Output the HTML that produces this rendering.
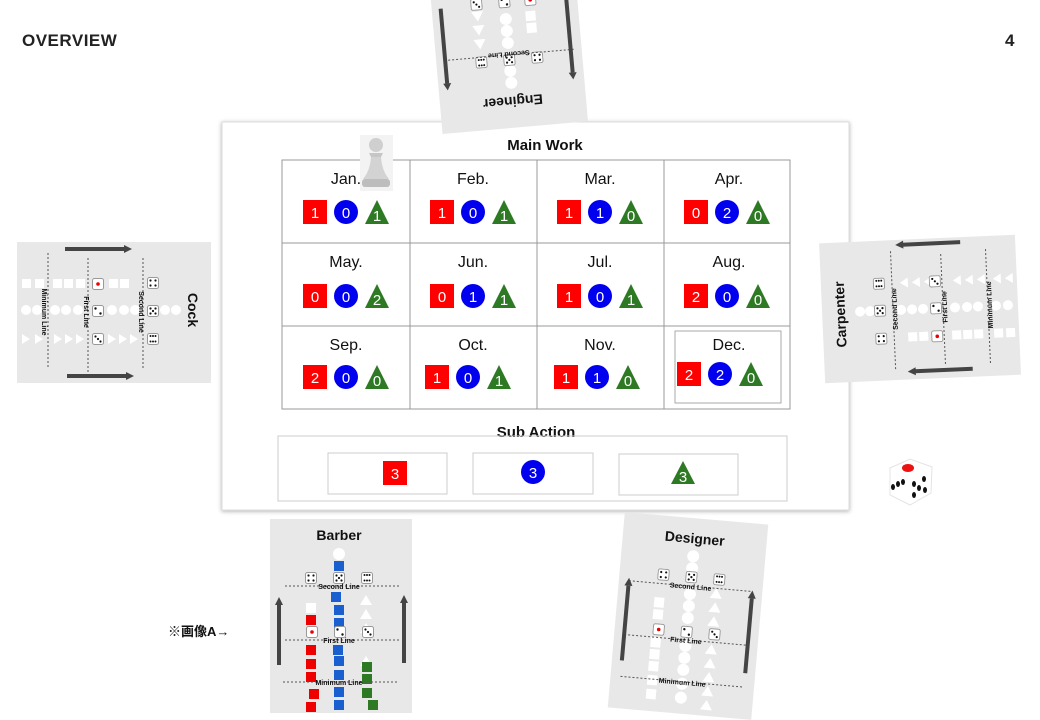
<!DOCTYPE html>
<html><head><meta charset="utf-8"><style>
html,body{margin:0;padding:0;background:#fff;}
svg{display:block;font-family:"Liberation Sans","Noto Sans CJK JP",sans-serif;}
.n{fill:#fff;font-size:15px;text-anchor:middle;}
.m{font-size:16px;text-anchor:middle;fill:#111;}
.ln{font-size:7px;font-weight:bold;fill:#111;text-anchor:middle;}
.dl{stroke:#555;stroke-width:1;stroke-dasharray:2,2;}
.ar{stroke:#444;stroke-width:4;}
</style></head><body>
<svg width="1040" height="720" viewBox="0 0 1040 720" xmlns="http://www.w3.org/2000/svg">
<defs>
<symbol id="d1" viewBox="0 0 12 12"><rect x="0.5" y="0.5" width="11" height="11" rx="2" fill="#fff" stroke="#999"/><circle cx="6" cy="6" r="1.8" fill="#e00"/></symbol>
<symbol id="d2" viewBox="0 0 12 12"><rect x="0.5" y="0.5" width="11" height="11" rx="2" fill="#fff" stroke="#999"/><circle cx="3.5" cy="3.5" r="1.2" fill="#111"/><circle cx="8.5" cy="8.5" r="1.2" fill="#111"/></symbol>
<symbol id="d3" viewBox="0 0 12 12"><rect x="0.5" y="0.5" width="11" height="11" rx="2" fill="#fff" stroke="#999"/><circle cx="3.5" cy="3.5" r="1.1" fill="#111"/><circle cx="6" cy="6" r="1.1" fill="#111"/><circle cx="8.5" cy="8.5" r="1.1" fill="#111"/></symbol>
<symbol id="d4" viewBox="0 0 12 12"><rect x="0.5" y="0.5" width="11" height="11" rx="2" fill="#fff" stroke="#999"/><circle cx="3.5" cy="3.5" r="1.1" fill="#111"/><circle cx="8.5" cy="3.5" r="1.1" fill="#111"/><circle cx="3.5" cy="8.5" r="1.1" fill="#111"/><circle cx="8.5" cy="8.5" r="1.1" fill="#111"/></symbol>
<symbol id="d5" viewBox="0 0 12 12"><rect x="0.5" y="0.5" width="11" height="11" rx="2" fill="#fff" stroke="#999"/><circle cx="3.5" cy="3.5" r="1.1" fill="#111"/><circle cx="8.5" cy="3.5" r="1.1" fill="#111"/><circle cx="6" cy="6" r="1.1" fill="#111"/><circle cx="3.5" cy="8.5" r="1.1" fill="#111"/><circle cx="8.5" cy="8.5" r="1.1" fill="#111"/></symbol>
<symbol id="d6" viewBox="0 0 12 12"><rect x="0.5" y="0.5" width="11" height="11" rx="2" fill="#fff" stroke="#999"/><circle cx="3.5" cy="3" r="1" fill="#111"/><circle cx="6" cy="3" r="1" fill="#111"/><circle cx="8.5" cy="3" r="1" fill="#111"/><circle cx="3.5" cy="8.5" r="1" fill="#111"/><circle cx="6" cy="8.5" r="1" fill="#111"/><circle cx="8.5" cy="8.5" r="1" fill="#111"/></symbol>
<filter id="sh" x="-10%" y="-10%" width="120%" height="120%"><feDropShadow dx="0" dy="1" stdDeviation="2" flood-color="#000" flood-opacity="0.3"/></filter>
</defs>

<text x="22" y="46" font-size="17" font-weight="bold" fill="#222" letter-spacing="0.5">OVERVIEW</text>
<text x="1005" y="46" font-size="17" font-weight="bold" fill="#222">4</text>

<!-- Main panel -->
<rect x="222" y="122" width="627" height="388" fill="#fff" stroke="#ddd" filter="url(#sh)"/>
<text x="545" y="150" font-size="15" font-weight="bold" text-anchor="middle" fill="#111">Main Work</text>
<g stroke="#999" stroke-width="1" fill="none">
<rect x="282" y="160" width="508" height="249"/>
<line x1="410" y1="160" x2="410" y2="409"/><line x1="537" y1="160" x2="537" y2="409"/><line x1="664" y1="160" x2="664" y2="409"/>
<line x1="282" y1="243" x2="790" y2="243"/><line x1="282" y1="326" x2="790" y2="326"/>
<rect x="675" y="331" width="106" height="72" stroke="#aaa"/>
</g>
<text class="m" x="346" y="184">Jan.</text><text class="m" x="473" y="184">Feb.</text><text class="m" x="600" y="184">Mar.</text><text class="m" x="729" y="184">Apr.</text>
<text class="m" x="346" y="267">May.</text><text class="m" x="473" y="267">Jun.</text><text class="m" x="600" y="267">Jul.</text><text class="m" x="729" y="267">Aug.</text>
<text class="m" x="346" y="350">Sep.</text><text class="m" x="473" y="350">Oct.</text><text class="m" x="600" y="350">Nov.</text><text class="m" x="729" y="350">Dec.</text>

<g transform="translate(346,212)"><rect x="-43" y="-12" width="24" height="24" fill="#f00"/><text class="n" x="-31" y="6">1</text><circle r="12" fill="#00e"/><text class="n" x="0" y="6">0</text><polygon points="19,12 31,-12 43,12" fill="#2e7a24"/><text class="n" x="31" y="9">1</text></g>
<g transform="translate(473,212)"><rect x="-43" y="-12" width="24" height="24" fill="#f00"/><text class="n" x="-31" y="6">1</text><circle r="12" fill="#00e"/><text class="n" x="0" y="6">0</text><polygon points="19,12 31,-12 43,12" fill="#2e7a24"/><text class="n" x="31" y="9">1</text></g>
<g transform="translate(600,212)"><rect x="-43" y="-12" width="24" height="24" fill="#f00"/><text class="n" x="-31" y="6">1</text><circle r="12" fill="#00e"/><text class="n" x="0" y="6">1</text><polygon points="19,12 31,-12 43,12" fill="#2e7a24"/><text class="n" x="31" y="9">0</text></g>
<g transform="translate(727,212)"><rect x="-43" y="-12" width="24" height="24" fill="#f00"/><text class="n" x="-31" y="6">0</text><circle r="12" fill="#00e"/><text class="n" x="0" y="6">2</text><polygon points="19,12 31,-12 43,12" fill="#2e7a24"/><text class="n" x="31" y="9">0</text></g>
<g transform="translate(346,296)"><rect x="-43" y="-12" width="24" height="24" fill="#f00"/><text class="n" x="-31" y="6">0</text><circle r="12" fill="#00e"/><text class="n" x="0" y="6">0</text><polygon points="19,12 31,-12 43,12" fill="#2e7a24"/><text class="n" x="31" y="9">2</text></g>
<g transform="translate(473,296)"><rect x="-43" y="-12" width="24" height="24" fill="#f00"/><text class="n" x="-31" y="6">0</text><circle r="12" fill="#00e"/><text class="n" x="0" y="6">1</text><polygon points="19,12 31,-12 43,12" fill="#2e7a24"/><text class="n" x="31" y="9">1</text></g>
<g transform="translate(600,296)"><rect x="-43" y="-12" width="24" height="24" fill="#f00"/><text class="n" x="-31" y="6">1</text><circle r="12" fill="#00e"/><text class="n" x="0" y="6">0</text><polygon points="19,12 31,-12 43,12" fill="#2e7a24"/><text class="n" x="31" y="9">1</text></g>
<g transform="translate(727,296)"><rect x="-43" y="-12" width="24" height="24" fill="#f00"/><text class="n" x="-31" y="6">2</text><circle r="12" fill="#00e"/><text class="n" x="0" y="6">0</text><polygon points="19,12 31,-12 43,12" fill="#2e7a24"/><text class="n" x="31" y="9">0</text></g>
<g transform="translate(346,377)"><rect x="-43" y="-12" width="24" height="24" fill="#f00"/><text class="n" x="-31" y="6">2</text><circle r="12" fill="#00e"/><text class="n" x="0" y="6">0</text><polygon points="19,12 31,-12 43,12" fill="#2e7a24"/><text class="n" x="31" y="9">0</text></g>
<g transform="translate(468,377)"><rect x="-43" y="-12" width="24" height="24" fill="#f00"/><text class="n" x="-31" y="6">1</text><circle r="12" fill="#00e"/><text class="n" x="0" y="6">0</text><polygon points="19,12 31,-12 43,12" fill="#2e7a24"/><text class="n" x="31" y="9">1</text></g>
<g transform="translate(597,377)"><rect x="-43" y="-12" width="24" height="24" fill="#f00"/><text class="n" x="-31" y="6">1</text><circle r="12" fill="#00e"/><text class="n" x="0" y="6">1</text><polygon points="19,12 31,-12 43,12" fill="#2e7a24"/><text class="n" x="31" y="9">0</text></g>
<g transform="translate(720,374)"><rect x="-43" y="-12" width="24" height="24" fill="#f00"/><text class="n" x="-31" y="6">2</text><circle r="12" fill="#00e"/><text class="n" x="0" y="6">2</text><polygon points="19,12 31,-12 43,12" fill="#2e7a24"/><text class="n" x="31" y="9">0</text></g>

<text x="536" y="437" font-size="15" font-weight="bold" text-anchor="middle" fill="#111">Sub Action</text>
<g fill="none" stroke="#ccc"><rect x="278" y="436" width="509" height="65"/><rect x="328" y="453" width="119" height="41"/><rect x="473" y="453" width="120" height="41"/><rect x="619" y="454" width="119" height="41"/></g>
<rect x="383" y="461" width="24" height="24" fill="#f00"/><text class="n" x="395" y="479">3</text>
<circle cx="533" cy="472" r="12" fill="#00e"/><text class="n" x="533" y="478">3</text>
<polygon points="671,484 683,461 695,484" fill="#2e7a24"/><text class="n" x="683" y="482">3</text>

<!-- pawn -->
<g>
<rect x="360" y="135" width="33" height="56" fill="#f3f3f3"/>
<circle cx="376" cy="145" r="7" fill="#cfcfcf"/>
<path d="M369 153 h14 l-2 4 h-10z" fill="#c6c6c6"/>
<path d="M371 157 h10 q1 14 8 22 h-26 q7 -8 8 -22z" fill="#d3d3d3"/>
<rect x="362" y="179" width="28" height="8" rx="3" fill="#bdbdbd"/>
</g>

<!-- Engineer card (upside-down) -->
<g transform="translate(507,33) rotate(175)">
<rect x="-73" y="-95" width="146" height="190" fill="#e8e8e8"/>
<text x="0" y="-64" font-size="14" font-weight="bold" text-anchor="middle" fill="#111">Engineer</text>
<circle cx="0" cy="-50" r="6" fill="#fff"/><circle cx="0" cy="-38" r="6" fill="#fff"/>
<use href="#d4" x="-34" y="-33" width="12" height="12"/><use href="#d5" x="-6" y="-33" width="12" height="12"/><use href="#d6" x="22" y="-33" width="12" height="12"/>
<line class="dl" x1="-65" y1="-22" x2="65" y2="-22"/><text class="ln" x="0" y="-19">Second Line</text>
<circle cx="0" cy="-10" r="6" fill="#fff"/><circle cx="0" cy="2" r="6" fill="#fff"/><circle cx="0" cy="14" r="6" fill="#fff"/>
<rect x="-30" y="-2" width="10" height="10" fill="#fff"/><rect x="-30" y="10" width="10" height="10" fill="#fff"/>
<polygon points="22,-4 34,-4 28,-14" fill="#fff"/><polygon points="22,10 34,10 28,0" fill="#fff"/><polygon points="22,24 34,24 28,14" fill="#fff"/>
<use href="#d1" x="-32" y="25" width="12" height="12"/><use href="#d2" x="-6" y="25" width="12" height="12"/><use href="#d3" x="22" y="25" width="12" height="12"/>
<line class="dl" x1="-65" y1="40" x2="65" y2="40"/><text class="ln" x="0" y="43">First Line</text>
<line class="ar" x1="-62" y1="30" x2="-62" y2="-45"/><polygon points="-66,-45 -58,-45 -62,-52" fill="#444"/>
<line class="ar" x1="64" y1="30" x2="64" y2="-45"/><polygon points="60,-45 68,-45 64,-52" fill="#444"/>
</g>

<!-- Cock card -->
<g>
<rect x="17" y="242" width="194" height="141" fill="#e8e8e8"/>
<line class="ar" x1="65" y1="249" x2="125" y2="249"/><polygon points="124,245 124,253 132,249" fill="#444"/>
<line class="ar" x1="67" y1="376" x2="127" y2="376"/><polygon points="126,372 126,380 134,376" fill="#444"/>
<line class="dl" x1="48" y1="253" x2="48" y2="368"/><line class="dl" x1="88" y1="258" x2="88" y2="372"/><line class="dl" x1="143" y1="258" x2="143" y2="370"/>
<g fill="#fff"><rect x="22" y="279" width="9" height="9"/><rect x="35" y="279" width="9" height="9"/><rect x="53" y="279" width="9" height="9"/><rect x="64" y="279" width="9" height="9"/><rect x="76" y="279" width="9" height="9"/><rect x="109" y="279" width="9" height="9"/><rect x="120" y="279" width="9" height="9"/>
<circle cx="26" cy="310" r="5"/><circle cx="37" cy="310" r="5"/><circle cx="55" cy="310" r="5"/><circle cx="66" cy="310" r="5"/><circle cx="78" cy="310" r="5"/><circle cx="112" cy="310" r="5"/><circle cx="124" cy="310" r="5"/><circle cx="135" cy="310" r="5"/><circle cx="165" cy="310" r="5"/><circle cx="176" cy="310" r="5"/>
<polygon points="22,334 22,344 30,339"/><polygon points="35,334 35,344 43,339"/><polygon points="54,334 54,344 62,339"/><polygon points="65,334 65,344 73,339"/><polygon points="76,334 76,344 84,339"/><polygon points="108,334 108,344 116,339"/><polygon points="119,334 119,344 127,339"/><polygon points="130,334 130,344 138,339"/></g>
<use href="#d1" x="92" y="278" width="12" height="12"/><use href="#d2" x="92" y="305" width="12" height="12"/><use href="#d3" x="92" y="333" width="12" height="12"/>
<use href="#d4" x="147" y="277" width="12" height="12"/><use href="#d5" x="147" y="305" width="12" height="12"/><use href="#d6" x="147" y="333" width="12" height="12"/>
<text class="ln" transform="translate(42,312) rotate(90)">Minimum Line</text>
<text class="ln" transform="translate(84,312) rotate(90)">First Line</text>
<text class="ln" transform="translate(139,312) rotate(90)">Second Line</text>
<text transform="translate(188,310) rotate(90)" font-size="14" font-weight="bold" text-anchor="middle" fill="#111">Cock</text>
</g>

<!-- Carpenter card -->
<g transform="rotate(-2.5 920 308)">
<rect x="822" y="239" width="196" height="140" fill="#e8e8e8"/>
<line class="ar" x1="905" y1="244" x2="963" y2="244"/><polygon points="906,240 906,248 898,244" fill="#444"/>
<line class="ar" x1="912" y1="371" x2="970" y2="371"/><polygon points="913,367 913,375 905,371" fill="#444"/>
<line class="dl" x1="893" y1="250" x2="893" y2="368"/><line class="dl" x1="943" y1="255" x2="943" y2="366"/><line class="dl" x1="988" y1="252" x2="988" y2="368"/>
<g fill="#fff">
<polygon points="909,277 909,287 901,282"/><polygon points="921,277 921,287 913,282"/><polygon points="933,277 933,287 925,282"/><polygon points="962,277 962,287 954,282"/><polygon points="974,277 974,287 966,282"/><polygon points="986,277 986,287 978,282"/><polygon points="1002,277 1002,287 994,282"/><polygon points="1014,277 1014,287 1006,282"/>
<circle cx="860" cy="309" r="5"/><circle cx="870" cy="309" r="5"/><circle cx="901" cy="309" r="5"/><circle cx="912" cy="309" r="5"/><circle cx="923" cy="309" r="5"/><circle cx="955" cy="309" r="5"/><circle cx="967" cy="309" r="5"/><circle cx="978" cy="309" r="5"/><circle cx="996" cy="309" r="5"/><circle cx="1008" cy="309" r="5"/>
<rect x="907" y="332" width="9" height="9"/><rect x="918" y="332" width="9" height="9"/><rect x="951" y="332" width="9" height="9"/><rect x="962" y="332" width="9" height="9"/><rect x="973" y="332" width="9" height="9"/><rect x="993" y="332" width="9" height="9"/><rect x="1005" y="332" width="9" height="9"/></g>
<use href="#d6" x="874" y="276" width="12" height="12"/><use href="#d5" x="874" y="303" width="12" height="12"/><use href="#d4" x="874" y="331" width="12" height="12"/>
<use href="#d3" x="930" y="276" width="12" height="12"/><use href="#d2" x="930" y="303" width="12" height="12"/><use href="#d1" x="930" y="331" width="12" height="12"/>
<text class="ln" transform="translate(897,308) rotate(-90)">Second Line</text>
<text class="ln" transform="translate(947,308) rotate(-90)">First Line</text>
<text class="ln" transform="translate(992,308) rotate(-90)">Minimum Line</text>
<text transform="translate(845,311) rotate(-90)" font-size="14" font-weight="bold" text-anchor="middle" fill="#111">Carpenter</text>
</g>

<!-- dice -->
<g>
<path d="M890 468 l20 -9 l22 8 l-1 26 l-21 12 l-20 -10z" fill="#fff" stroke="#e4e4e4"/>
<ellipse cx="908" cy="468" rx="6" ry="4" fill="#e11"/>
<g fill="#111"><ellipse cx="893" cy="487" rx="2" ry="3"/><ellipse cx="898" cy="484" rx="2" ry="3"/><ellipse cx="903" cy="482" rx="2" ry="3"/>
<ellipse cx="914" cy="484" rx="2" ry="3"/><ellipse cx="924" cy="479" rx="2" ry="3"/><ellipse cx="919" cy="488" rx="2" ry="3"/><ellipse cx="914" cy="495" rx="2" ry="3"/><ellipse cx="925" cy="490" rx="2" ry="3"/></g>
</g>

<!-- Barber card -->
<g>
<rect x="270" y="519" width="142" height="194" fill="#e8e8e8"/>
<text x="339" y="540" font-size="14" font-weight="bold" text-anchor="middle" fill="#111">Barber</text>
<circle cx="339" cy="554" r="6" fill="#fff"/><rect x="334" y="561" width="10" height="10" fill="#1a5fd0"/>
<use href="#d4" x="305" y="572" width="12" height="12"/><use href="#d5" x="333" y="572" width="12" height="12"/><use href="#d6" x="361" y="572" width="12" height="12"/>
<line class="dl" x1="285" y1="586" x2="399" y2="586"/><text class="ln" x="339" y="589">Second Line</text>
<g fill="#fff"><polygon points="360,605 372,605 366,595"/><polygon points="360,619 372,619 366,609"/><polygon points="360,633 372,633 366,623"/><polygon points="360,666 372,666 366,656"/><rect x="306" y="603" width="10" height="10"/></g>
<g fill="#1a5fd0"><rect x="331" y="592" width="10" height="10"/><rect x="334" y="605" width="10" height="10"/><rect x="334" y="618" width="10" height="10"/><rect x="333" y="645" width="10" height="10"/><rect x="334" y="656" width="10" height="10"/><rect x="334" y="670" width="10" height="10"/><rect x="334" y="687" width="10" height="10"/><rect x="334" y="700" width="10" height="10"/></g>
<g fill="#e00"><rect x="306" y="615" width="10" height="10"/><rect x="306" y="645" width="10" height="10"/><rect x="306" y="659" width="10" height="10"/><rect x="306" y="672" width="10" height="10"/><rect x="309" y="689" width="10" height="10"/><rect x="306" y="702" width="10" height="10"/></g>
<g fill="#2e7a24"><rect x="362" y="662" width="10" height="10"/><rect x="362" y="674" width="10" height="10"/><rect x="362" y="688" width="10" height="10"/><rect x="368" y="700" width="10" height="10"/></g>
<use href="#d1" x="306" y="626" width="12" height="12"/><use href="#d2" x="334" y="626" width="12" height="12"/><use href="#d3" x="362" y="626" width="12" height="12"/>
<line class="dl" x1="285" y1="640" x2="399" y2="640"/><text class="ln" x="339" y="643">First Line</text>
<line class="dl" x1="283" y1="682" x2="399" y2="682"/><text class="ln" x="339" y="685">Minimum Line</text>
<line class="ar" x1="279" y1="665" x2="279" y2="604"/><polygon points="275,605 283,605 279,597" fill="#444"/>
<line class="ar" x1="404" y1="663" x2="404" y2="602"/><polygon points="400,603 408,603 404,595" fill="#444"/>
</g>

<text x="168" y="636" font-size="13" font-weight="bold" fill="#111">※画像A→</text>

<!-- Designer card -->
<g transform="translate(688,616) rotate(5)">
<rect x="-72" y="-98" width="144" height="196" fill="#e8e8e8"/>
<text x="0" y="-73" font-size="14" font-weight="bold" text-anchor="middle" fill="#111">Designer</text>
<g fill="#fff"><circle cx="0" cy="-60" r="6"/><circle cx="0" cy="-48" r="6"/><circle cx="0" cy="-22" r="6"/><circle cx="0" cy="-10" r="6"/><circle cx="0" cy="2" r="6"/><circle cx="0" cy="30" r="6"/><circle cx="0" cy="42" r="6"/><circle cx="0" cy="54" r="6"/><circle cx="0" cy="68" r="6"/><circle cx="0" cy="82" r="6"/>
<rect x="-35" y="-16" width="10" height="10"/><rect x="-35" y="-4" width="10" height="10"/><rect x="-35" y="24" width="10" height="10"/><rect x="-35" y="36" width="10" height="10"/><rect x="-35" y="48" width="10" height="10"/><rect x="-35" y="62" width="10" height="10"/><rect x="-35" y="76" width="10" height="10"/>
<polygon points="20,-20 32,-20 26,-30"/><polygon points="20,-6 32,-6 26,-16"/><polygon points="20,8 32,8 26,-2"/><polygon points="20,36 32,36 26,26"/><polygon points="20,50 32,50 26,40"/><polygon points="20,64 32,64 26,54"/><polygon points="20,78 32,78 26,68"/><polygon points="20,92 32,92 26,82"/></g>
<use href="#d4" x="-34" y="-45" width="12" height="12"/><use href="#d5" x="-6" y="-45" width="12" height="12"/><use href="#d6" x="22" y="-45" width="12" height="12"/>
<line class="dl" x1="-62" y1="-30" x2="62" y2="-30"/><text class="ln" x="0" y="-27">Second Line</text>
<use href="#d1" x="-34" y="10" width="12" height="12"/><use href="#d2" x="-6" y="10" width="12" height="12"/><use href="#d3" x="22" y="10" width="12" height="12"/>
<line class="dl" x1="-62" y1="24" x2="62" y2="24"/><text class="ln" x="0" y="27">First Line</text>
<line class="dl" x1="-62" y1="66" x2="62" y2="66"/><text class="ln" x="0" y="69">Minimum Line</text>
<line class="ar" x1="-62" y1="50" x2="-62" y2="-25"/><polygon points="-66,-25 -58,-25 -62,-33" fill="#444"/>
<line class="ar" x1="62" y1="52" x2="62" y2="-23"/><polygon points="58,-23 66,-23 62,-31" fill="#444"/>
</g>
</svg>
</body></html>
